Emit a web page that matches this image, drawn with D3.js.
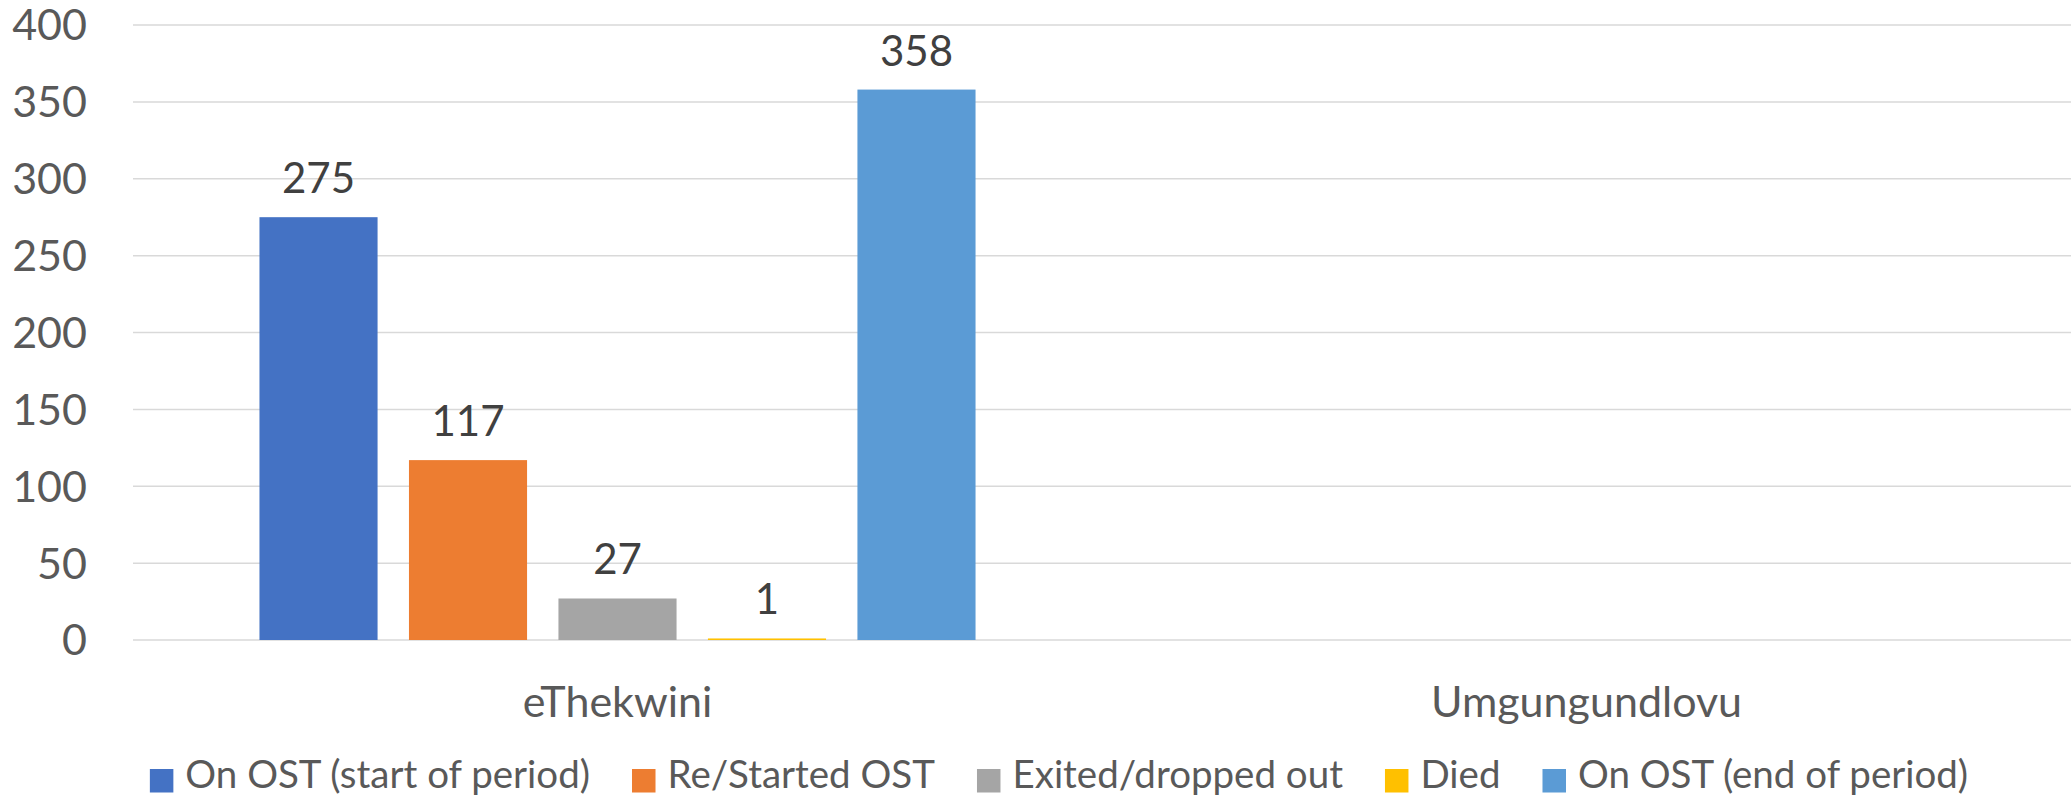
<!DOCTYPE html>
<html>
<head>
<meta charset="utf-8">
<script src="https://cdn.jsdelivr.net/npm/d3@7"></script>
<style>
  html, body { margin: 0; padding: 0; background: #fff; }
  text { font-family: Lato, "Open Sans", sans-serif; }
</style>
</head>
<body>
<div id="chart"></div>
<script>
const categories = ["eThekwini", "Umgungundlovu"];
const seriesNames = [
  "On OST (start of period)",
  "Re/Started OST",
  "Exited/dropped out",
  "Died",
  "On OST (end of period)"
];
const seriesColors = ["#4472C4", "#ED7D31", "#A5A5A5", "#FFC000", "#5B9BD5"];
// values per category, in series order (Umgungundlovu has no data)
const eThekwiniValues = [275, 117, 27, 1, 358];
const umgungundlovuValues = [null, null, null, null, null];
const yTicks = [0, 50, 100, 150, 200, 250, 300, 350, 400];

class BarChart {
  constructor(id, width, height) {
    this.width = width;
    this.height = height;
    this.svg = d3
      .select(`#${id}`)
      .append("svg")
      .attr("width", width)
      .attr("height", height);
    this.margin = { top: 25, right: 0, bottom: 162, left: 133 };
    this.initScales();
    this.addGrid();
    this.addBars();
    this.addAxisLabels();
    this.addLegend(1059, 788);
  }

  initScales() {
    const m = this.margin;
    this.x0 = d3
      .scaleBand()
      .domain(categories)
      .range([m.left, this.width - m.right]);
    this.x1 = d3
      .scaleBand()
      .domain(seriesNames)
      .range([0, this.x0.bandwidth()])
      .paddingInner(0.21)
      .paddingOuter(0.846);
    this.y = d3
      .scaleLinear()
      .domain([0, 400])
      .range([this.height - m.bottom, m.top]);
  }

  addGrid() {
    this.svg
      .append("g")
      .selectAll("line")
      .data(yTicks)
      .join("line")
      .attr("x1", this.margin.left)
      .attr("x2", this.width - this.margin.right)
      .attr("y1", (d) => this.y(d))
      .attr("y2", (d) => this.y(d))
      .attr("stroke", "#d9d9d9")
      .attr("stroke-width", 1.5);
  }

  addBars() {
    const rows = [eThekwiniValues, umgungundlovuValues];
    const data = [];
    categories.forEach((c, i) => {
      rows[i].forEach((v, j) => {
        if (v != null) data.push({ cat: c, name: seriesNames[j], value: v, color: seriesColors[j] });
      });
    });

    const g = this.svg.append("g");
    g.selectAll("rect")
      .data(data)
      .join("rect")
      .attr("x", (d) => this.x0(d.cat) + this.x1(d.name))
      .attr("width", this.x1.bandwidth())
      .attr("y", (d) => this.y(d.value))
      .attr("height", (d) => this.y(0) - this.y(d.value))
      .attr("fill", (d) => d.color);

    g.selectAll("text")
      .data(data)
      .join("text")
      .attr("x", (d) => this.x0(d.cat) + this.x1(d.name) + this.x1.bandwidth() / 2)
      .attr("y", (d) => this.y(d.value) - 24)
      .attr("text-anchor", "middle")
      .attr("font-size", 42)
      .attr("fill", "#404040")
      .text((d) => d.value);
  }

  addAxisLabels() {
    this.svg
      .append("g")
      .selectAll("text")
      .data(yTicks)
      .join("text")
      .attr("x", 87)
      .attr("y", (d) => this.y(d))
      .attr("dy", "0.36em")
      .attr("text-anchor", "end")
      .attr("font-size", 43)
      .attr("fill", "#595959")
      .text((d) => d);

    this.svg
      .append("g")
      .selectAll("text")
      .data(categories)
      .join("text")
      .attr("x", (d) => this.x0(d) + this.x0.bandwidth() / 2)
      .attr("y", 717)
      .attr("text-anchor", "middle")
      .attr("font-size", 43)
      .attr("fill", "#595959")
      .text((d) => d);
  }

  addLegend(cx, baseline) {
    const box = 23.5,
      gapText = 12,
      gapItem = 42;
    const g = this.svg.append("g");
    const items = g
      .selectAll("g")
      .data(seriesNames)
      .join("g");
    items
      .append("rect")
      .attr("width", box)
      .attr("height", box)
      .attr("y", baseline - 19)
      .attr("fill", (d, i) => seriesColors[i]);
    items
      .append("text")
      .attr("x", box + gapText)
      .attr("y", baseline)
      .attr("font-size", 38.5)
      .attr("fill", "#595959")
      .text((d) => d);

    let offset = 0;
    items.each(function () {
      const w = d3.select(this).select("text").node().getComputedTextLength();
      d3.select(this).attr("transform", `translate(${offset},0)`);
      offset += box + gapText + w + gapItem;
    });
    const total = offset - gapItem;
    g.attr("transform", `translate(${cx - total / 2},0)`);
  }
}

new BarChart("chart", 2071, 802);
</script>
</body>
</html>
